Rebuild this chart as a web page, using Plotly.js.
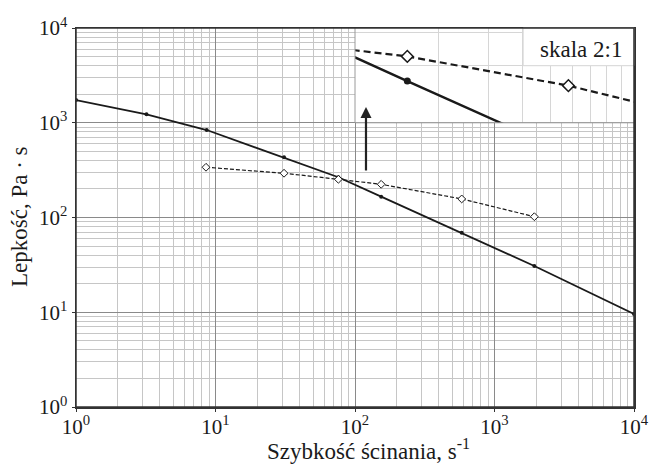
<!DOCTYPE html>
<html>
<head>
<meta charset="utf-8">
<script src="https://cdn.plot.ly/plotly-3.0.1.min.js"></script>
<style>html,body{margin:0;padding:0;background:#fff;}#chart{width:653px;height:464px;}</style>
</head>
<body>
<div id="chart"></div>
<script>
// Data
const shearRateA = [1, 3.2, 8.65, 31, 76, 154, 582, 1930, 10000];
const viscosityA = [1738, 1228, 838, 432, 266, 166, 69, 30.8, 9.6];
const shearRateB = [8.55, 31, 76, 154, 582, 1930];
const viscosityB = [339, 293, 253, 224, 157, 102];
const decadeVals = [1, 10, 100, 1000, 10000];
const decadeText = ['10<sup>0</sup>', '10<sup>1</sup>', '10<sup>2</sup>', '10<sup>3</sup>', '10<sup>4</sup>'];
const xTitle = 'Szybkość ścinania, s<sup>-1</sup>';
const yTitle = 'Lepkość, Pa · s';
const insetLabel = 'skala 2:1';

const minorVals = [];
for (let d = 1; d <= 1000; d *= 10) for (let k = 2; k <= 9; k++) minorVals.push(k * d);

const FONT = 'Liberation Serif, Times New Roman, serif';
const ink = '#1a1a1a';

const traces = [
  { x: shearRateA, y: viscosityA, mode: 'lines+markers', xaxis: 'x', yaxis: 'y',
    line: { color: ink, width: 1.8 }, marker: { symbol: 'circle', size: 4, color: ink },
    hoverinfo: 'skip', showlegend: false },
  { x: shearRateB, y: viscosityB, mode: 'lines+markers', xaxis: 'x', yaxis: 'y',
    line: { color: ink, width: 1.2, dash: '4px,2px' },
    marker: { symbol: 'diamond', size: 6, color: '#fff', line: { color: ink, width: 1 } },
    hoverinfo: 'skip', showlegend: false },
  { x: shearRateA, y: viscosityA, mode: 'lines+markers', xaxis: 'x2', yaxis: 'y2',
    line: { color: ink, width: 2.4 }, marker: { symbol: 'circle', size: 7, color: ink },
    hoverinfo: 'skip', showlegend: false, cliponaxis: true },
  { x: shearRateB, y: viscosityB, mode: 'lines+markers', xaxis: 'x2', yaxis: 'y2',
    line: { color: ink, width: 2.2, dash: '7px,4px' },
    marker: { symbol: 'diamond', size: 9, color: '#fff', line: { color: ink, width: 1.5 } },
    hoverinfo: 'skip', showlegend: false, cliponaxis: true }
];

const mainAxis = {
  type: 'log', range: [0, 4], tickmode: 'array', tickvals: decadeVals, ticktext: decadeText,
  showgrid: true, gridcolor: '#8a8a8a', gridwidth: 1, zeroline: false,
  showline: true, linecolor: '#333', linewidth: 1.5, mirror: true,
  ticks: 'outside', ticklen: 3, tickcolor: '#333',
  tickfont: { family: FONT, size: 21, color: ink },
  minor: { tickmode: 'array', tickvals: minorVals, showgrid: true, gridcolor: '#c6c6c6', gridwidth: 1, ticks: '' }
};

const layout = {
  width: 653, height: 464,
  margin: { l: 76, r: 19, t: 28, b: 57, pad: 0 },
  paper_bgcolor: '#fff', plot_bgcolor: '#fff',
  font: { family: FONT, color: ink },
  xaxis: Object.assign({}, mainAxis, { domain: [0, 1], anchor: 'y', ticklabelstandoff: -3 }),
  yaxis: Object.assign({}, mainAxis, { domain: [0, 1], anchor: 'x' }),
  xaxis2: { type: 'log', range: [2, 3], domain: [0.5, 1], anchor: 'y2',
    tickmode: 'array', tickvals: [200, 300, 400, 500, 600, 700, 800, 900],
    showticklabels: false, ticks: '', showgrid: true, gridcolor: '#d6d6d6', zeroline: false, showline: false },
  yaxis2: { type: 'log', range: [2, 2.5], domain: [0.75, 1], anchor: 'x2',
    tickmode: 'array', tickvals: [200, 300],
    showticklabels: false, ticks: '', showgrid: true, gridcolor: '#d6d6d6', zeroline: false, showline: false },
  shapes: [
    { type: 'rect', xref: 'paper', yref: 'paper', x0: 0.8013, x1: 1, y0: 0.9005, y1: 1,
      fillcolor: '#fff', line: { color: '#d6d6d6', width: 1 }, layer: 'above' },
    { type: 'line', xref: 'paper', yref: 'paper', x0: 0.5, x1: 0.5, y0: 0.75, y1: 1,
      line: { color: '#9a9a9a', width: 1 }, layer: 'above' },
    { type: 'line', xref: 'paper', yref: 'paper', x0: 0.5, x1: 1, y0: 0.75, y1: 0.75,
      line: { color: '#8a8a8a', width: 1 }, layer: 'above' },
    { type: 'rect', xref: 'paper', yref: 'paper', x0: 0, x1: 1, y0: 0, y1: 1,
      fillcolor: 'rgba(0,0,0,0)', line: { color: '#333', width: 1.5 }, layer: 'above' }
  ],
  annotations: [
    { text: insetLabel, xref: 'paper', yref: 'paper', x: 0.905, y: 0.942,
      xanchor: 'center', yanchor: 'middle', showarrow: false,
      font: { family: FONT, size: 23, color: ink } },
    { text: '', xref: 'paper', yref: 'paper', x: 0.5197, y: 0.7916, ax: 0, ay: 65,
      showarrow: true, arrowhead: 2, arrowsize: 1, arrowwidth: 2.2, arrowcolor: '#222', standoff: 0 },
    { text: xTitle, xref: 'paper', yref: 'paper', x: 0.525, y: -0.111,
      xanchor: 'center', yanchor: 'middle', showarrow: false,
      font: { family: FONT, size: 23, color: ink } },
    { text: yTitle, xref: 'paper', yref: 'paper', x: -0.1004, y: 0.504, textangle: -90,
      xanchor: 'center', yanchor: 'middle', showarrow: false,
      font: { family: FONT, size: 23, color: ink } }
  ]
};

Plotly.newPlot('chart', traces, layout, { staticPlot: true, displayModeBar: false });
</script>
</body>
</html>
